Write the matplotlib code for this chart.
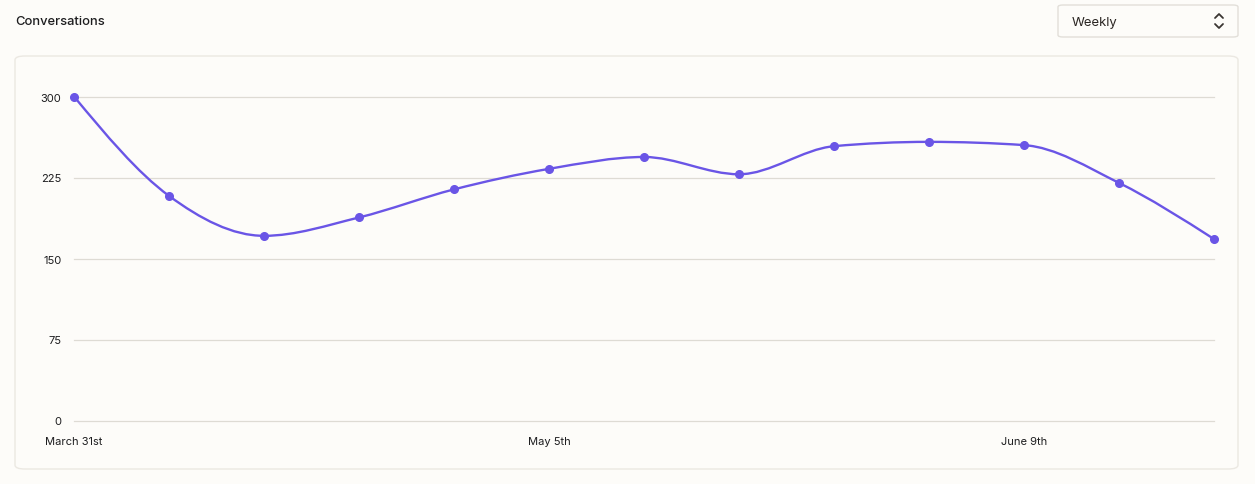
import numpy as np
import matplotlib
matplotlib.use('Agg')
import matplotlib.pyplot as plt
from matplotlib.path import Path
from matplotlib.patches import PathPatch, FancyBboxPatch
from matplotlib.lines import Line2D

plt.rcParams['font.family'] = ['Inter', 'DejaVu Sans']

# weekly conversation counts, starting March 31st
weeks = ['March 31st', 'April 7th', 'April 14th', 'April 21st', 'April 28th',
         'May 5th', 'May 12th', 'May 19th', 'May 26th', 'June 2nd',
         'June 9th', 'June 16th', 'June 23rd']
conversations = [300, 208, 171, 188, 214, 233, 244, 228, 254, 258, 255, 220, 168]
shown_ticks = [0, 5, 10]
y_ticks = [0, 75, 150, 225, 300]

BG = '#fdfcf9'
PURPLE = '#6a55e6'
GRID = '#dedbd4'
TEXT = '#1d1d1f'

W, H = 1255, 485


def monotone_path(x, y):
    """cubic bezier path like d3 curveMonotoneX"""
    x = np.asarray(x, float)
    y = np.asarray(y, float)
    n = len(x)
    h = np.diff(x)
    s = np.diff(y) / h
    t = np.zeros(n)
    for i in range(1, n - 1):
        p = (s[i - 1] * h[i] + s[i] * h[i - 1]) / (h[i - 1] + h[i])
        t[i] = (np.sign(s[i - 1]) + np.sign(s[i])) * min(abs(s[i - 1]), abs(s[i]), 0.5 * abs(p))
    t[0] = (3 * s[0] - t[1]) / 2
    t[-1] = (3 * s[-1] - t[-2]) / 2
    verts = [(x[0], y[0])]
    codes = [Path.MOVETO]
    for i in range(n - 1):
        dx = h[i] / 3
        verts += [(x[i] + dx, y[i] + dx * t[i]),
                  (x[i + 1] - dx, y[i + 1] - dx * t[i + 1]),
                  (x[i + 1], y[i + 1])]
        codes += [Path.CURVE4] * 3
    return Path(verts, codes)


fig = plt.figure(figsize=(W / 100, H / 100), dpi=100, facecolor=BG)

# card behind the chart
card = FancyBboxPatch((15 / W, 1 - 470 / H), (1238 - 15) / W, (470 - 57) / H,
                      boxstyle='round,pad=0,rounding_size=0.008',
                      transform=fig.transFigure, facecolor=BG,
                      edgecolor='#ebe8e2', linewidth=1.0, zorder=-1)
fig.patches.append(card)

fig.text(15 / W, 1 - 22 / H, 'Conversations', fontsize=9.3, fontweight='medium',
         color=TEXT, va='center', ha='left')

# dropdown
box = FancyBboxPatch((1058 / W, 1 - 38 / H), 180 / W, 32 / H,
                     boxstyle='round,pad=0,rounding_size=0.004',
                     transform=fig.transFigure, facecolor=BG,
                     edgecolor='#e2dfd9', linewidth=1.0, zorder=-1)
fig.patches.append(box)
fig.text(1072 / W, 1 - 23 / H, 'Weekly', fontsize=9.4, color='#2a2522',
         va='center', ha='left')
for sgn in (1, -1):
    cy = 22 + sgn * -5
    fig.lines.append(Line2D([1215 / W, 1219 / W, 1223 / W],
                            [1 - (cy + sgn * 2) / H, 1 - (cy - sgn * 2) / H, 1 - (cy + sgn * 2) / H],
                            transform=fig.transFigure, color='#3a3532', linewidth=1.3,
                            solid_capstyle='round', solid_joinstyle='round'))

ax = fig.add_axes([74 / W, 1 - 421.5 / H, (1214 - 74) / W, (421.5 - 97.5) / H])
ax.set_facecolor('none')
ax.set_zorder(2)
xs = np.arange(len(conversations))
ax.set_xlim(0, len(conversations) - 1)
ax.set_ylim(0, 300)

for v in y_ticks:
    ax.axhline(v, color=GRID, linewidth=0.9, zorder=1, clip_on=False)

ax.add_patch(PathPatch(monotone_path(xs, conversations), facecolor='none',
                       edgecolor=PURPLE, linewidth=1.7, zorder=3, clip_on=False))
ax.plot(xs, conversations, 'o', color=PURPLE, markersize=5.5, zorder=4, clip_on=False)

for sp in ax.spines.values():
    sp.set_visible(False)
ax.set_yticks(y_ticks)
ax.set_yticklabels([str(v) for v in y_ticks])
ax.set_xticks(shown_ticks)
ax.set_xticklabels([weeks[i] for i in shown_ticks])
ax.tick_params(axis='y', length=0, pad=9, labelsize=8, labelcolor=TEXT)
ax.tick_params(axis='x', length=0, pad=11, labelsize=8, labelcolor=TEXT)

fig.savefig('out.png', dpi=100, facecolor=BG)
